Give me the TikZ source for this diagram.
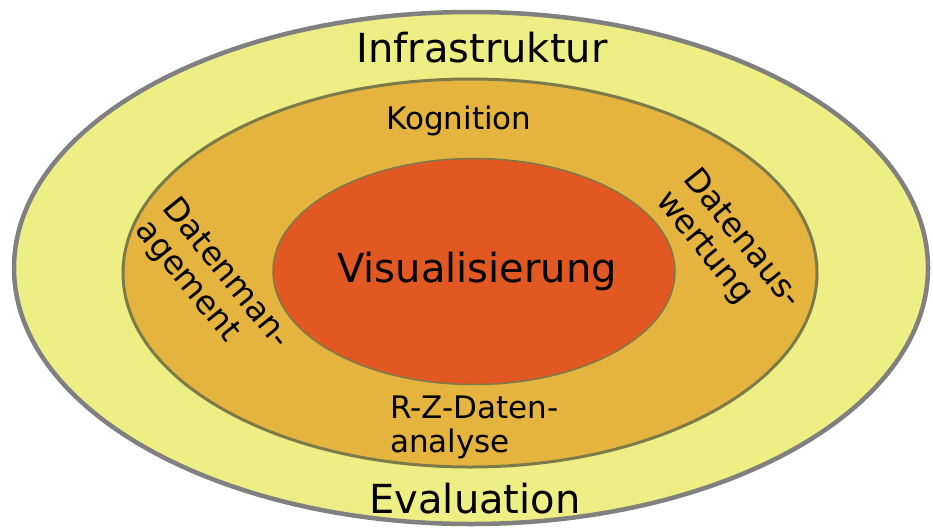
\documentclass[tikz,border=0pt]{standalone}
\usepackage{fontspec}
\setmainfont{DejaVu Sans}
\definecolor{ringouter}{HTML}{EDEE84}
\definecolor{ringmid}{HTML}{E5B43F}
\definecolor{ringcore}{HTML}{E25822}
\definecolor{edgegray}{HTML}{808080}
\definecolor{edgeolive}{HTML}{7B7B49}
\tikzset{
  bigtxt/.style={font=\fontsize{40}{46}\selectfont, inner sep=0pt},
  smalltxt/.style={font=\fontsize{31}{34}\selectfont, inner sep=0pt, align=left},
  slanttxt/.style={font=\fontsize{32.5}{35}\selectfont, inner sep=0pt, align=left, rotate=-51},
}
\begin{document}
\begin{tikzpicture}[x=1pt,y=-1pt]
\useasboundingbox (0,0) rectangle (933,531);
% three nested rings
\filldraw[fill=ringouter, draw=edgegray, line width=4.5pt]
  (471,268) ellipse [x radius=457pt, y radius=256pt];
\filldraw[fill=ringmid, draw=edgeolive, line width=3pt]
  (470,273) ellipse [x radius=347pt, y radius=194pt];
\filldraw[fill=ringcore, draw=edgeolive, line width=1.5pt]
  (474,271.5) ellipse [x radius=201pt, y radius=113pt];
% labels
\node[bigtxt, anchor=base] (infra) at (482,62) {Infrastruktur};
\node[bigtxt, anchor=base] (eval) at (475,513) {Evaluation};
\node[bigtxt, anchor=base] (vis) at (477,282) {Visualisierung};
\node[smalltxt, anchor=base] (kog) at (459,129) {Kognition};
\node[smalltxt, anchor=north west] (rz) at (390,396) {R-Z-Daten-\\analyse};
\node[slanttxt] (dm) at (212,285) {Datenman-\\agement};
\node[slanttxt] (da) at (728,250) {Datenaus-\\wertung};
\end{tikzpicture}
\end{document}
